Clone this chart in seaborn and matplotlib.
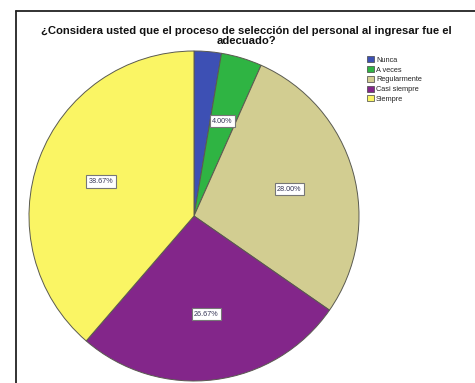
import matplotlib
matplotlib.use("Agg")
import matplotlib.pyplot as plt
from matplotlib.patches import Patch
from matplotlib.lines import Line2D
import seaborn as sns

sns.set_theme(style="white")
plt.rcParams["font.family"] = ["Liberation Sans", "DejaVu Sans"]

# Respuestas (n = 75)
categorias = ["Nunca", "A veces", "Regularmente", "Casi siempre", "Siempre"]
frecuencias = [2, 3, 21, 20, 29]
colores = ["#3d50b4", "#2fb443", "#d2cd91", "#83268a", "#faf564"]
titulo = ("¿Considera usted que el proceso de selección del personal al ingresar fue el\n"
          "adecuado?")

W, H = 475, 383
fig = plt.figure(figsize=(W / 100, H / 100), dpi=100)
fig.patch.set_facecolor("white")

def fx(px):
    return px / W

def fy(py):
    return 1 - py / H

# pie axes: centre (194, 216) px, radius 165 px
cx, cy, r = 194, 216, 165
ax = fig.add_axes([fx(cx - r), fy(cy + r), 2 * r / W, 2 * r / H])

def etiqueta(pct):
    return f"{pct:.2f}%" if pct > 3 else ""

wedges, textos, autotextos = ax.pie(
    frecuencias,
    colors=colores,
    startangle=90,
    counterclock=False,
    radius=1,
    autopct=etiqueta,
    pctdistance=0.6,
    wedgeprops=dict(edgecolor="#5a5a50", linewidth=0.7),
    textprops=dict(fontsize=5.2, color="#333355"),
)
ax.set_xlim(-1, 1)
ax.set_ylim(-1, 1)
ax.set_aspect("equal")
ax.axis("off")
for t in autotextos:
    if t.get_text():
        t.set_bbox(dict(boxstyle="square,pad=0.35", facecolor="white",
                        edgecolor="#777777", linewidth=0.8))

# frame around the chart
fig.add_artist(Line2D([fx(16), fx(16)], [fy(11), fy(H + 2)], color="#222222",
                      linewidth=1.3, transform=fig.transFigure))
fig.add_artist(Line2D([fx(16), fx(W + 2)], [fy(11), fy(11)], color="#222222",
                      linewidth=1.3, transform=fig.transFigure))

fig.text(fx(246), fy(36), titulo, ha="center", va="center", fontsize=8.1,
         fontweight="bold", color="#111111", linespacing=0.9)

handles = [Patch(facecolor=c, edgecolor="#444444", linewidth=0.5) for c in colores]
fig.legend(handles, categorias, loc="upper left",
           bbox_to_anchor=(fx(362), fy(51)), frameon=False, fontsize=5.3,
           handlelength=0.9, handleheight=0.9, handletextpad=0.3,
           labelspacing=0.3, borderpad=0.2)

fig.savefig("out.png", dpi=100, facecolor="white")
